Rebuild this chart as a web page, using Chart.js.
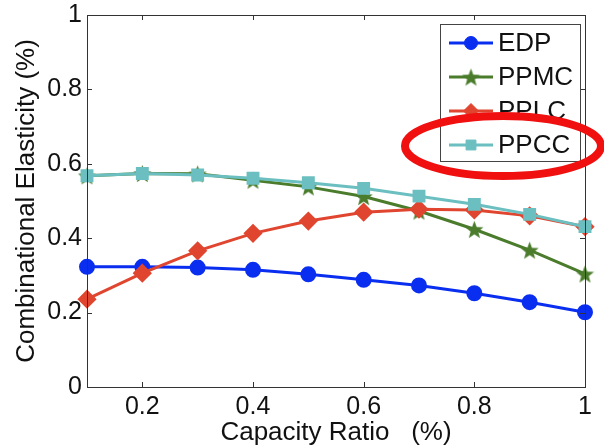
<!DOCTYPE html>
<html>
<head>
<meta charset="utf-8">
<script src="https://cdn.jsdelivr.net/npm/chart.js@4/dist/chart.umd.min.js"></script>
<style>
  body { margin: 0; background: #fff; }
  #chart { display: block; }
</style>
</head>
<body>
<canvas id="chart" width="604" height="447"></canvas>
<script>
const capacityRatio = [0.1, 0.2, 0.3, 0.4, 0.5, 0.6, 0.7, 0.8, 0.9, 1.0];
const edp  = [0.323, 0.323, 0.321, 0.315, 0.303, 0.288, 0.273, 0.252, 0.228, 0.201];
const ppmc = [0.568, 0.574, 0.573, 0.556, 0.538, 0.512, 0.473, 0.424, 0.368, 0.304];
const pplc = [0.236, 0.306, 0.366, 0.413, 0.446, 0.470, 0.478, 0.476, 0.460, 0.431];
const ppcc = [0.568, 0.574, 0.570, 0.561, 0.549, 0.534, 0.513, 0.491, 0.464, 0.431];
const xTicks = [0.2, 0.4, 0.6, 0.8, 1];
const yTicks = [0, 0.2, 0.4, 0.6, 0.8, 1];

const FONT = "'Liberation Sans', Arial, sans-serif";

// filled five point star for PPMC
function makeStar(color, size) {
  const c = document.createElement('canvas');
  c.width = size; c.height = size;
  const g = c.getContext('2d');
  const cx = size / 2, cy = size / 2 + 1, R = size / 2, r = R * 0.42;
  g.beginPath();
  for (let i = 0; i < 10; i++) {
    const rad = i % 2 ? r : R;
    const a = -Math.PI / 2 + i * Math.PI / 5;
    g.lineTo(cx + rad * Math.cos(a), cy + rad * Math.sin(a));
  }
  g.closePath();
  g.fillStyle = color;
  g.fill();
  return c;
}
const starImg = makeStar('#4a7c2c', 19);

function toXY(ys) {
  return ys.map((v, i) => ({ x: capacityRatio[i], y: v }));
}

// box + inward ticks like matlab, legend, and the red ellipse
const boxPlugin = {
  id: 'box',
  afterDraw(chart) {
    const ctx = chart.ctx;
    const a = chart.chartArea;
    const xs = chart.scales.x, ys = chart.scales.y;
    ctx.save();
    ctx.strokeStyle = '#333';
    ctx.lineWidth = 1;
    ctx.strokeRect(a.left + 0.5, a.top + 0.5, a.right - a.left, a.bottom - a.top);
    ctx.beginPath();
    xTicks.forEach(v => {
      const px = Math.round(xs.getPixelForValue(v)) + 0.5;
      ctx.moveTo(px, a.bottom); ctx.lineTo(px, a.bottom - 5);
      ctx.moveTo(px, a.top); ctx.lineTo(px, a.top + 5);
    });
    yTicks.forEach(v => {
      const py = Math.round(ys.getPixelForValue(v)) + 0.5;
      ctx.moveTo(a.left, py); ctx.lineTo(a.left + 5, py);
      ctx.moveTo(a.right, py); ctx.lineTo(a.right - 5, py);
    });
    ctx.stroke();

    // legend
    const lx = 440, ly = 24, lw = 140, lh = 137;
    ctx.fillStyle = '#fff';
    ctx.fillRect(lx, ly, lw, lh);
    ctx.strokeStyle = '#444';
    ctx.strokeRect(lx + 0.5, ly + 0.5, lw, lh);
    const rows = [43, 77, 111, 145];
    chart.data.datasets.forEach((ds, i) => {
      const y = rows[i];
      ctx.strokeStyle = ds.borderColor;
      ctx.lineWidth = 3;
      ctx.beginPath();
      ctx.moveTo(449, y); ctx.lineTo(493, y);
      ctx.stroke();
      ctx.fillStyle = ds.pointBackgroundColor;
      ctx.strokeStyle = ds.pointBackgroundColor;
      ctx.lineWidth = 1;
      Chart.helpers.drawPoint(ctx, {
        pointStyle: ds.pointStyle, radius: ds.pointRadius, rotation: 0, borderWidth: 1
      }, 471, y);
      ctx.fillStyle = '#111';
      ctx.font = '26px ' + FONT;
      ctx.textBaseline = 'middle';
      ctx.textAlign = 'left';
      ctx.fillText(ds.label, 498, y + 1);
    });

    // red highlight ellipse
    ctx.strokeStyle = '#f01010';
    ctx.lineWidth = 8;
    ctx.beginPath();
    ctx.ellipse(503, 146, 98, 30, 0, 0, Math.PI * 2);
    ctx.stroke();
    ctx.restore();
  }
};

const ctx = document.getElementById('chart');

let mainChart = new Chart(ctx, {
  type: 'line',
  data: {
    datasets: [
      {
        label: 'EDP', data: toXY(edp), order: 3, clip: false,
        borderColor: '#0a2ef0', backgroundColor: '#0a2ef0',
        pointBackgroundColor: '#0a2ef0', pointBorderColor: '#0a2ef0',
        pointStyle: 'circle', pointRadius: 6.5, borderWidth: 3
      },
      {
        label: 'PPMC', data: toXY(ppmc), order: 2, clip: false,
        borderColor: '#4a7c2c', backgroundColor: '#4a7c2c',
        pointBackgroundColor: '#4a7c2c', pointBorderColor: '#4a7c2c',
        pointStyle: starImg, pointRadius: 9, borderWidth: 3
      },
      {
        label: 'PPLC', data: toXY(pplc), order: 1, clip: false,
        borderColor: '#e0452f', backgroundColor: '#e0452f',
        pointBackgroundColor: '#e0452f', pointBorderColor: '#e0452f',
        pointStyle: 'rectRot', pointRadius: 7.5, borderWidth: 3
      },
      {
        label: 'PPCC', data: toXY(ppcc), order: 0, clip: false,
        borderColor: '#6cbfc0', backgroundColor: '#6cbfc0',
        pointBackgroundColor: '#6cbfc0', pointBorderColor: '#6cbfc0',
        pointStyle: 'rect', pointRadius: 7, borderWidth: 3
      }
    ]
  },
  options: {
    responsive: false,
    animation: false,
    layout: { padding: { left: 0, top: 15, right: 19, bottom: 0 } },
    plugins: { legend: { display: false }, tooltip: { enabled: false } },
    scales: {
      x: {
        type: 'linear', min: 0.1, max: 1,
        grid: { display: false, drawTicks: false },
        border: { display: false },
        afterBuildTicks: s => { s.ticks = xTicks.map(v => ({ value: v })); },
        afterFit: s => { s.height = 60; },
        ticks: {
          padding: 5, maxRotation: 0, autoSkip: false,
          color: '#111', font: { family: FONT, size: 25 },
          callback: v => String(v)
        },
        title: {
          display: true, text: 'Capacity Ratio   (%)', color: '#111',
          font: { family: FONT, size: 26, lineHeight: 1 }, padding: { top: 0, bottom: 1 }
        }
      },
      y: {
        min: 0, max: 1,
        grid: { display: false, drawTicks: false },
        border: { display: false },
        afterBuildTicks: s => { s.ticks = yTicks.map(v => ({ value: v })); },
        afterFit: s => { s.width = 87; s.paddingTop = 0; s.paddingBottom = 0; },
        ticks: {
          padding: 5, color: '#111', font: { family: FONT, size: 25, lineHeight: 1 },
          callback: v => String(v)
        },
        title: {
          display: true, text: 'Combinational Elasticity (%)', color: '#111',
          font: { family: FONT, size: 26, lineHeight: 1 }, padding: { top: 14, bottom: 0 }
        }
      }
    }
  },
  plugins: [boxPlugin]
});
</script>
</body>
</html>
